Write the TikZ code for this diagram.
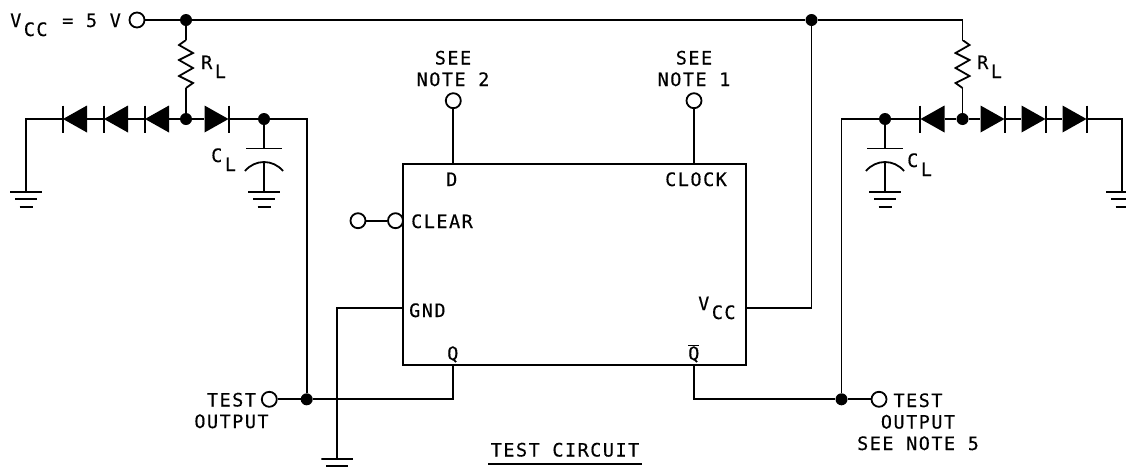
\documentclass[tikz,border=0pt]{standalone}
\usepackage{fontspec}
\setmainfont[LetterSpace=8,FakeBold=0.3]{DejaVu Sans Mono}
\usepackage{tikz}
\newcommand{\labelfont}{\fontsize{18.5}{21.5}\selectfont}
\newcommand{\subtext}[1]{\kern2.5pt\raisebox{-9pt}{#1}}
\tikzstyle{textonly} = [rectangle, inner sep=0pt, align=center, font=\labelfont]
\tikzstyle{wire} = [line width=1.8pt]
\tikzstyle{dot} = [circle, fill=black, inner sep=0pt, minimum size=12pt]
\tikzstyle{terminal} = [circle, draw=black, fill=white, line width=1.8pt, inner sep=0pt, minimum size=15pt]
\tikzstyle{diodeleft} = [rectangle, inner sep=0pt, minimum width=24pt, minimum height=27pt,
path picture={
\fill (path picture bounding box.west) -- (path picture bounding box.north east) -- (path picture bounding box.south east) -- cycle;
}]
\tikzstyle{dioderight} = [rectangle, inner sep=0pt, minimum width=24pt, minimum height=27pt,
path picture={
\fill (path picture bounding box.east) -- (path picture bounding box.north west) -- (path picture bounding box.south west) -- cycle;
}]
\tikzstyle{resistorl} = [rectangle, inner sep=0pt, minimum width=17pt, minimum height=48pt,
path picture={
\draw [line width=1.8pt, shift={(path picture bounding box.center)}]
(0,-24) -- (-7,-19) -- (7,-11) -- (-7,-4) -- (7,4) -- (-7,12) -- (7,19) -- (0,24);
}]
\tikzstyle{resistorr} = [rectangle, inner sep=0pt, minimum width=17pt, minimum height=48pt,
path picture={
\draw [line width=1.8pt, shift={(path picture bounding box.center)}]
(0,-24) -- (7,-19) -- (-7,-11) -- (7,-4) -- (-7,4) -- (7,12) -- (-7,19) -- (0,24);
}]
\tikzstyle{capacitor} = [rectangle, inner sep=0pt, minimum width=42pt, minimum height=44pt,
path picture={
\begin{scope}[line width=1.8pt, shift={(path picture bounding box.center)}]
\draw (-18,-21.5) -- (18,-21.5);
\draw (-19,1) .. controls (-9,-11) and (9,-11) .. (19,1);
\draw (0,-8) -- (0,22);
\end{scope}
}]
\tikzstyle{ground} = [rectangle, inner sep=0pt, minimum width=32pt, minimum height=18pt,
path picture={
\begin{scope}[line width=1.8pt, shift={(path picture bounding box.center)}]
\draw (-16,-8) -- (16,-8);
\draw (-11,-1) -- (11,-1);
\draw (-6.5,6.5) -- (6.5,6.5);
\end{scope}
}]
\begin{document}
\begin{tikzpicture}[x=1pt, y=-1pt, node distance=41pt]
		\useasboundingbox (0,0) rectangle (1126,472);
		% supply rail
		\node (vcc) [terminal] at (137,20) {};
		\node (vcclabel) [textonly, anchor=base west] at (10,27) {V\subtext{CC}\kern2pt{} = 5 V};
		\node (topl) [dot] at (186,20) {};
		\node (topr) [dot] at (811.5,20) {};
		\coordinate (cornr) at (962.5,20);

		% left load
		\node (rl1) [resistorl] at (186,64) {};
		\node (rl1label) [textonly, anchor=base west] at (201,69) {R\subtext{L}};
		\node (dl1) [diodeleft] at (75,119) {};
		\node (dl2) [diodeleft, right of=dl1] {};
		\node (dl3) [diodeleft, right of=dl2] {};
		\node (midl) [dot] at (186,119) {};
		\node (dl4) [dioderight] at (216.5,119) {};
		\node (capnodel) [dot] at (264,119) {};
		\node (cl1) [capacitor] at (264,170) {};
		\node (cl1label) [textonly, anchor=base west] at (211,162) {C\subtext{L}};
		\node (gcl) [ground, anchor=north] at (264,191) {};
		\node (gl) [ground, anchor=north] at (26,191) {};
		\coordinate (endl) at (26,119);
		\coordinate (outcornl) at (306.7,119);

		% right load
		\node (rl2) [resistorr] at (962.5,64) {};
		\node (rl2label) [textonly, anchor=base west] at (977,69) {R\subtext{L}};
		\node (dr1) [diodeleft] at (932.5,119) {};
		\node (midr) [dot] at (962.5,119) {};
		\node (dr2) [dioderight] at (992.5,119) {};
		\node (dr3) [dioderight, right of=dr2] {};
		\node (dr4) [dioderight, right of=dr3] {};
		\node (capnoder) [dot] at (885,119) {};
		\node (cl2) [capacitor] at (885,170) {};
		\node (cl2label) [textonly, anchor=base west] at (907,167) {C\subtext{L}};
		\node (gcr) [ground, anchor=north] at (885,191) {};
		\node (gr) [ground, anchor=north] at (1122,191) {};
		\coordinate (endr) at (1122,119);
		\coordinate (outcornr) at (841.5,119);

		% flip-flop
		\node (ff) [rectangle, draw=black, line width=1.9pt, minimum width=343pt, minimum height=201pt, inner sep=0pt] at (574.5,264.5) {};
		\node (dlabel) [textonly, anchor=base west] at (446,186) {D};
		\node (clklabel) [textonly, anchor=base west] at (665,186) {CLOCK};
		\node (clrlabel) [textonly, anchor=base west] at (411,228) {CLEAR};
		\node (gndlabel) [textonly, anchor=base west] at (409,317) {GND};
		\node (vcclabel2) [textonly, anchor=base west] at (698,310) {V\subtext{CC}};
		\node (qlabel) [textonly, anchor=base west] at (447,360) {Q};
		\node (qbarlabel) [textonly, anchor=base west] at (688,360) {$\overline{\mbox{Q}}$};
		\node (din) [terminal] at (453.3,100.7) {};
		\node (clkin) [terminal] at (694,100.7) {};
		\node (note2) [textonly, anchor=base] at (453,86) {SEE\\NOTE 2};
		\node (note1) [textonly, anchor=base] at (694,86) {SEE\\NOTE 1};
		\node (clrin) [terminal] at (358,220.7) {};
		\node (clrbub) [terminal] at (395.5,220.7) {};

		% outputs
		\node (testl) [terminal] at (269.3,399.3) {};
		\node (outl) [dot] at (306.7,399.3) {};
		\node (testr) [terminal] at (879,399.3) {};
		\node (outr) [dot] at (841.5,399.3) {};
		\node (testllabel) [textonly, anchor=base] at (231.5,428) {TEST\\OUTPUT};
		\node (testrlabel) [textonly, anchor=base] at (918,450) {TEST\\OUTPUT\\SEE NOTE 5};
		\node (gff) [ground, anchor=north] at (337.3,458) {};
		\node (title) [textonly, anchor=base] at (565,456.5) {TEST CIRCUIT};
		\coordinate (titlel) at (488,464);
		\coordinate (titler) at (642,464);

		\draw [wire](vcc) -- (topl);
		\draw [wire](topl) -- (topr);
		\draw [wire](topr) -- (cornr) -- (rl2);
		\draw [wire](topl) -- (rl1);
		\draw [wire](rl1) -- (midl);
		\draw [wire](rl2) -- (midr);
		\draw [wire](gl) -- (endl) -- (dl1);
		\draw [wire](dl1) -- (dl2);
		\draw [wire](dl2) -- (dl3);
		\draw [wire](dl3) -- (midl);
		\draw [wire](midl) -- (dl4);
		\draw [wire](dl4) -- (capnodel);
		\draw [wire](capnodel) -- (outcornl) -- (outl);
		\draw [wire](capnodel) -- (cl1);
		\draw [wire](capnoder) -- (cl2);
		\draw [wire](outr) -- (outcornr) -- (capnoder);
		\draw [wire](capnoder) -- (dr1);
		\draw [wire](dr1) -- (midr);
		\draw [wire](midr) -- (dr2);
		\draw [wire](dr2) -- (dr3);
		\draw [wire](dr3) -- (dr4);
		\draw [wire](dr4) -- (endr) -- (gr);
		\draw [wire](din) -- (din |- ff.north);
		\draw [wire](clkin) -- (clkin |- ff.north);
		\draw [wire](clrin) -- (clrbub);
		\draw [wire](ff.west |- 0,308.3) -- (gff.north |- 0,308.3) -- (gff);
		\draw [wire](ff.east |- 0,308.3) -- (topr |- 0,308.3) -- (topr);
		\draw [wire](testl) -- (outl);
		\draw [wire](outl) -- (din |- outl) -- (din |- ff.south);
		\draw [wire](testr) -- (outr);
		\draw [wire](outr) -- (clkin |- outr) -- (clkin |- ff.south);
		\draw [line width=1.8pt](titlel) -- (titler);

		% diode bars
		\foreach \d in {dl1,dl2,dl3,dr1}
			\draw [line width=1.8pt]([yshift=13.5pt]\d.west) -- ([yshift=-13.5pt]\d.west);
		\foreach \d in {dl4,dr2,dr3,dr4}
			\draw [line width=1.8pt]([yshift=13.5pt]\d.east) -- ([yshift=-13.5pt]\d.east);
	\end{tikzpicture}
\end{document}
